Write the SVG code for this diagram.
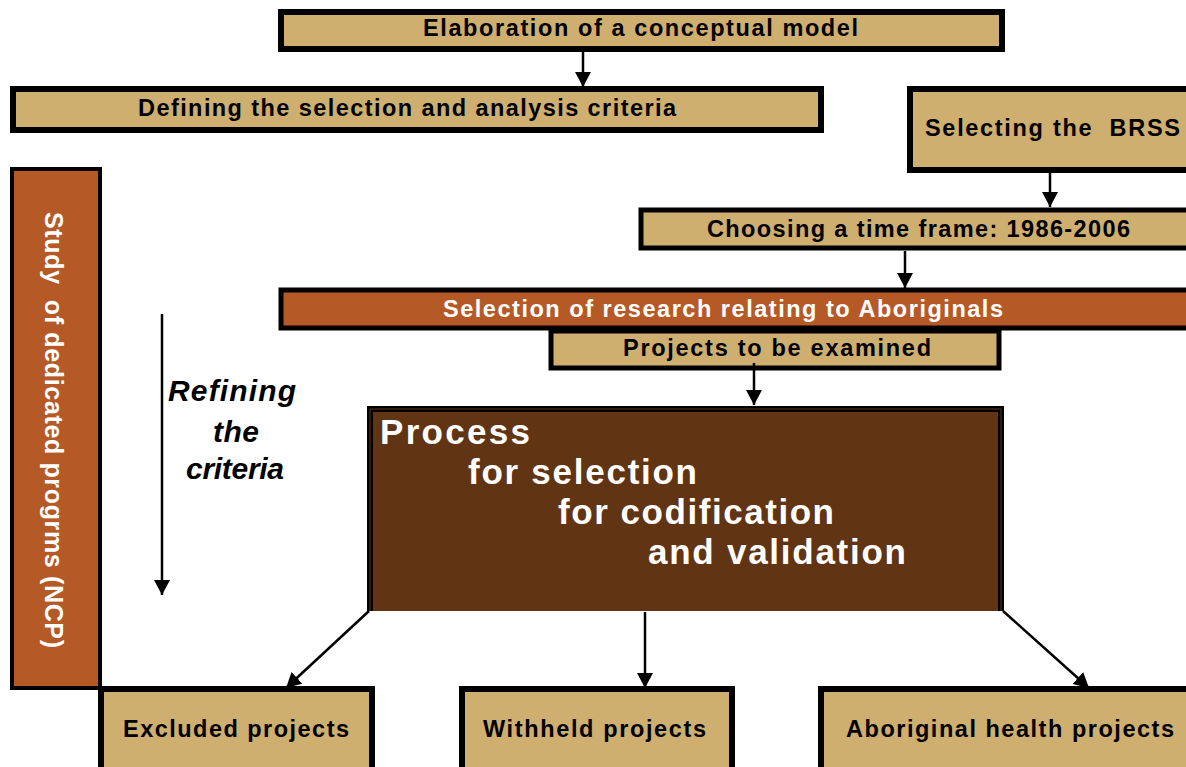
<svg xmlns="http://www.w3.org/2000/svg" width="1186" height="767" viewBox="0 0 1186 767">
<style>
.tan{fill:#CFAF70;stroke:#000;stroke-width:6}
.org{fill:#B55A27;stroke:#000;stroke-width:6}
.lbl{font-family:"Liberation Sans",Arial,sans-serif;font-weight:bold;font-size:23.5px;fill:#000}
.wht{fill:#fff}
.big{font-family:"Liberation Sans",Arial,sans-serif;font-weight:bold;font-size:35px;fill:#fff}
.ital{font-family:"Liberation Sans",Arial,sans-serif;font-weight:bold;font-style:italic;font-size:30px;fill:#000}
.con{stroke:#000;stroke-width:2.5;fill:none;marker-end:url(#ah)}
</style>
<defs>
<marker id="ah" markerUnits="userSpaceOnUse" markerWidth="18" markerHeight="18" refX="15" refY="8" orient="auto">
<path d="M0,0 L15,8 L0,16 Z" fill="#000"/>
</marker>
</defs>
<rect width="1186" height="767" fill="#fff"/>

<g id="n-elab">
<rect class="tan" x="281" y="12" width="721" height="37"/>
<text class="lbl" x="423" y="36" textLength="435">Elaboration of a conceptual model</text>
</g>
<g id="n-define">
<rect class="tan" x="13" y="89" width="808" height="41"/>
<text class="lbl" x="138" y="116" textLength="538">Defining the selection and analysis criteria</text>
</g>
<g id="n-brss">
<rect class="tan" x="910" y="89" width="300" height="81"/>
<text class="lbl" x="925" y="136" textLength="255" xml:space="preserve">Selecting the  BRSS</text>
</g>
<g id="n-time">
<rect class="tan" x="641" y="210" width="600" height="38" style="stroke-width:5"/>
<text class="lbl" x="707" y="237" textLength="423">Choosing a time frame: 1986-2006</text>
</g>
<g id="n-projects">
<rect class="tan" x="551" y="331" width="448" height="37" style="stroke-width:5"/>
<text class="lbl" x="623" y="356" textLength="308">Projects to be examined</text>
</g>
<g id="n-research">
<rect class="org" x="281" y="290" width="950" height="38" style="stroke-width:5"/>
<text class="lbl wht" x="443" y="317" textLength="560">Selection of research relating to Aboriginals</text>
</g>
<g id="n-ncp">
<rect class="org" x="12" y="169" width="88" height="519" style="stroke-width:4"/>
<text class="lbl wht" transform="translate(45,212) rotate(90)" x="0" y="0" style="font-size:25px" textLength="436" xml:space="preserve">Study  of dedicated progrms (NCP)</text>
</g>
<g id="n-process">
<rect x="367" y="406" width="637" height="205" fill="#613413"/>
<path d="M370,611 V409 H1001 V611" fill="none" stroke="#000" stroke-width="6"/>
<path d="M370,611 V409 H1001 V611" fill="none" stroke="#613413" stroke-width="1"/>
<text class="big" x="380" y="444" textLength="150">Process</text>
<text class="big" x="468" y="484" textLength="229">for selection</text>
<text class="big" x="558" y="524" textLength="276">for codification</text>
<text class="big" x="648" y="564" textLength="258">and validation</text>
</g>
<g id="n-refine">
<text class="ital" x="168" y="401" textLength="128">Refining</text>
<text class="ital" x="213" y="442" textLength="46">the</text>
<text class="ital" x="186" y="479" textLength="98">criteria</text>
</g>
<g id="n-excluded">
<rect class="tan" x="101" y="689" width="271" height="100"/>
<text class="lbl" x="123" y="737" textLength="226">Excluded projects</text>
</g>
<g id="n-withheld">
<rect class="tan" x="462" y="689" width="270" height="100"/>
<text class="lbl" x="483" y="737" textLength="223">Withheld projects</text>
</g>
<g id="n-aboriginal">
<rect class="tan" x="821" y="689" width="400" height="100"/>
<text class="lbl" x="846" y="737" textLength="328">Aboriginal health projects</text>
</g>

<g id="connectors">
<line class="con" x1="583" y1="52" x2="583" y2="87"/>
<line class="con" x1="1050" y1="173" x2="1050" y2="207"/>
<line class="con" x1="905" y1="251" x2="905" y2="288"/>
<line class="con" x1="754" y1="363" x2="754" y2="405"/>
<line class="con" x1="162" y1="314" x2="162" y2="595"/>
<line class="con" x1="645" y1="612" x2="645" y2="688"/>
<line class="con" x1="369" y1="611" x2="286" y2="688"/>
<line class="con" x1="1003" y1="611" x2="1089" y2="688"/>
</g>
</svg>
